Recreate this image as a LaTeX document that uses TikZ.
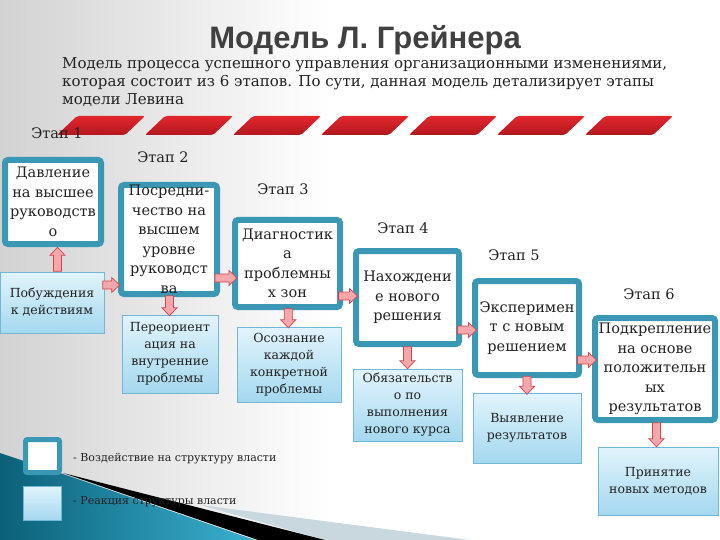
\documentclass[tikz,border=0pt]{standalone}
\usepackage{fontspec}
\setmainfont{DejaVu Serif}
\newfontfamily\titlefont{Liberation Sans}
\usetikzlibrary{calc}
\definecolor{tealb}{HTML}{3A98B4}
\definecolor{lborder}{HTML}{72B8D6}
\definecolor{ltop}{HTML}{E2F4FC}
\definecolor{lbot}{HTML}{A4D8EF}
\definecolor{txt}{HTML}{222222}
\definecolor{titlec}{HTML}{404040}
\definecolor{stripeA}{HTML}{E2262E}
\definecolor{stripeB}{HTML}{B3171F}
\definecolor{arrfill}{HTML}{F5A8AB}
\definecolor{arrdraw}{HTML}{D6434C}
\definecolor{bggray}{HTML}{D2D2D2}
\definecolor{tealdark}{HTML}{0B6078}
\definecolor{teallight}{HTML}{3AB0D0}
\definecolor{wedgegray}{HTML}{C9D7DF}
\tikzset{
  wbox/.style={draw=tealb, line width=6pt, fill=white, rounded corners=3pt,
    align=center, inner sep=0pt, text=txt, font=\fontsize{14.5}{19.5}\selectfont},
  lbox/.style={draw=lborder, line width=0.8pt, top color=ltop, bottom color=lbot,
    align=center, inner sep=0pt, text=txt, font=\fontsize{12.5}{17}\selectfont},
  stagelbl/.style={text=txt, inner sep=0pt, font=\fontsize{14.5}{17}\selectfont},
  arrst/.style={fill=arrfill, draw=arrdraw, line width=0.7pt, line join=miter},
  legtxt/.style={anchor=west, text=txt, inner sep=0pt, font=\fontsize{11}{13}\selectfont},
  pics/barrow/.style={code={
    \draw[arrst] (-#1/2,-4) -- (#1/2-8,-4) -- (#1/2-8,-7.5) -- (#1/2,0)
      -- (#1/2-8,7.5) -- (#1/2-8,4) -- (-#1/2,4) -- cycle;}}
}
\begin{document}
\begin{tikzpicture}[x=1pt,y=-1pt]
\useasboundingbox (0,0) rectangle (720,540);
% background
\fill[white] (0,0) rectangle (720,540);
\shade[left color=bggray, right color=white] (0,0) rectangle (330,540);
\fill[wedgegray] (200,505) -- (470,540) -- (325,540) -- cycle;
\shade[left color=tealdark, right color=teallight] (0,453) -- (63,474) -- (255,540) -- (0,540) -- cycle;
\fill[black] (63,473) -- (325,540) -- (258,540) -- cycle;
% red stripes
\foreach \k in {0,...,6}{
  \pgfmathsetmacro{\xo}{57+88*\k}
  \shade[top color=stripeA, bottom color=stripeB, rounded corners=2pt]
    (\xo,135) -- (\xo+68,135) -- (\xo+88,116) -- (\xo+20,116) -- cycle;
}
% title and description
\node[font=\titlefont\bfseries\fontsize{31}{36}\selectfont, text=titlec] (title) at (365,40) {Модель Л. Грейнера};
\node[anchor=north west, align=left, inner sep=0pt, text=txt, font=\fontsize{15}{18}\selectfont] (desc) at (62,57)
 {Модель процесса успешного управления организационными изменениями,\\
  которая  состоит из 6 этапов. По сути, данная модель детализирует этапы\\
  модели Левина};
% stage labels
\node[stagelbl] (s1) at (57,133) {Этап 1};
\node[stagelbl] (s2) at (163,157) {Этап 2};
\node[stagelbl] (s3) at (283,189) {Этап 3};
\node[stagelbl] (s4) at (403,228) {Этап 4};
\node[stagelbl] (s5) at (514,255) {Этап 5};
\node[stagelbl] (s6) at (649,294) {Этап 6};
% white boxes
\node[wbox, minimum width=96, minimum height=84] (w1) at (53,202) {Давление\\на высшее\\руководств\\о};
\node[wbox, minimum width=96, minimum height=109] (w2) at (169,239.5) {Посредни-\\чество на\\высшем\\уровне\\руководст\\ва};
\node[wbox, minimum width=105, minimum height=87] (w3) at (287.5,263.5) {Диагностик\\а\\проблемны\\х зон};
\node[wbox, minimum width=103, minimum height=93] (w4) at (407.5,297.5) {Нахождени\\е нового\\решения};
\node[wbox, minimum width=104, minimum height=94] (w5) at (527,328) {Эксперимен\\т с новым\\решением};
\node[wbox, minimum width=120, minimum height=102] (w6) at (655,369) {Подкрепление\\на основе\\положительн\\ых\\результатов};
% light boxes
\node[lbox, minimum width=104, minimum height=61] (l1) at (52,302.5) {Побуждения\\к действиям};
\node[lbox, minimum width=96, minimum height=78] (l2) at (170,354) {Переориент\\ация на\\внутренние\\проблемы};
\node[lbox, minimum width=104, minimum height=75] (l3) at (289,364.5) {Осознание\\каждой\\конкретной\\проблемы};
\node[lbox, minimum width=109, minimum height=72] (l4) at (407.5,405) {Обязательств\\о по\\выполнения\\нового курса};
\node[lbox, minimum width=108, minimum height=70] (l5) at (527,428) {Выявление\\результатов};
\node[lbox, minimum width=120, minimum height=68] (l6) at (658,481) {Принятие\\новых методов};
% arrows
\pic[rotate=90] at ($(w1.south)!.5!(l1.north)+(5,0)$) {barrow=24};
\pic at ($(l1.east |- 0,285)!.5!(w2.west |- 0,285)$) {barrow=17};
\pic at ($(w2.east |- 0,278)!.5!(w3.west |- 0,278)$) {barrow=22};
\pic at ($(w3.east |- 0,296)!.5!(w4.west |- 0,296)$) {barrow=19};
\pic at ($(w4.east |- 0,330)!.5!(w5.west |- 0,330)$) {barrow=19};
\pic at ($(w5.east |- 0,360)!.5!(w6.west |- 0,360)$) {barrow=19};
\pic[rotate=-90] at ($(w2.south)!.5!(l2.north)$) {barrow=20};
\pic[rotate=-90] at ($(w3.south)!.5!(l3.north)$) {barrow=19};
\pic[rotate=-90] at ($(w4.south)!.5!(l4.north)$) {barrow=22};
\pic[rotate=-90] at ($(w5.south)!.5!(l5.north)$) {barrow=18};
\pic[rotate=-90] at ($(w6.south)!.5!(l6.north)$) {barrow=24};
% legend
\node[draw=tealb, line width=5pt, fill=white, rounded corners=2pt, minimum width=34, minimum height=33, inner sep=0pt] (k1) at (42.5,456) {};
\node[draw=lborder, line width=0.8pt, top color=ltop, bottom color=lbot, minimum width=38, minimum height=34, inner sep=0pt] (k2) at (42,503) {};
\node[legtxt] (t1) at (73,459) {- Воздействие на структуру власти};
\node[legtxt] (t2) at (73,502) {- Реакция структуры власти};
\end{tikzpicture}
\end{document}
